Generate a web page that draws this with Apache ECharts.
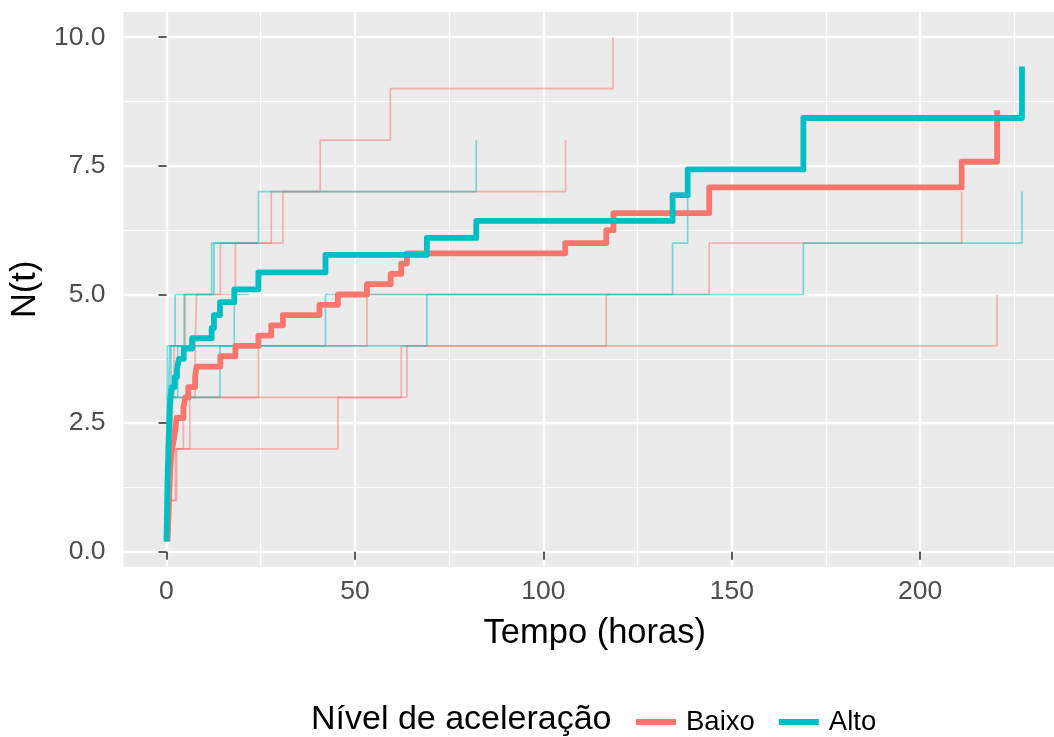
<!DOCTYPE html>
<html><head><meta charset="utf-8">
<script src="https://cdn.jsdelivr.net/npm/echarts@6/dist/echarts.min.js"></script>
<style>html,body{margin:0;padding:0;background:#fff}#c{width:1054px;height:737px}</style>
</head><body><div id="c"></div>
<script>
// Tick values
const xTicks = [0, 50, 100, 150, 200];
const xMinor = [25, 75, 125, 175, 225];
const yTicks = [0, 2.5, 5, 7.5, 10];
const yMinor = [1.25, 3.75, 6.25, 8.75];
const groups = ['Baixo', 'Alto'];

// Mean cumulative function (thick lines): [time, N(t)]
const mcfBaixo = [[0.3,0.2],[0.4,0.4],[0.5,0.6],[0.6,0.8],[0.7,1.0],[0.8,1.2],[0.9,1.4],[1.0,1.6],[1.2,1.8],[1.5,2.0],[2.0,2.2],[2.4,2.4],[2.7,2.6],[4.5,2.8],[5.0,3.0],[5.8,3.2],[7.6,3.4],[8.0,3.6],[14.3,3.8],[18.3,4.0],[24.4,4.2],[27.8,4.4],[30.9,4.6],[40.6,4.8],[45.5,5.0],[53.2,5.2],[59.5,5.4],[62.3,5.6],[63.8,5.8],[105.8,6.0],[116.7,6.25],[118.6,6.58],[144.0,7.08],[211.0,7.58],[220.4,8.58]];
const mcfAlto = [[0,0.2],[0.05,0.4],[0.1,0.6],[0.15,0.8],[0.2,1.0],[0.25,1.2],[0.3,1.4],[0.35,1.6],[0.45,1.8],[0.5,2.0],[0.6,2.2],[0.7,2.4],[0.8,2.6],[0.9,2.8],[1.1,3.0],[1.4,3.2],[2.2,3.4],[2.8,3.55],[3.3,3.75],[4.6,3.95],[6.8,4.15],[12.0,4.35],[12.6,4.6],[14.2,4.85],[18.0,5.1],[24.4,5.43],[42.2,5.77],[69.1,6.1],[82.2,6.43],[134.3,6.93],[138.3,7.43],[169.0,8.43],[227.0,9.43]];

// Individual systems (thin lines): [time, cumulative failures]
const baixo1 = [[0.4,1],[0.7,2],[1.0,3],[2.0,4],[5.0,5],[14.3,6],[27.8,7],[40.8,8],[59.4,9],[118.5,10]];
const baixo2 = [[0.5,1],[0.9,2],[1.6,3],[7.6,4],[8.0,5],[18.3,6],[30.9,7],[105.9,8]];
const baixo3 = [[1.4,1],[2.4,2],[45.5,3],[62.3,4],[220.4,5]];
const baixo4 = [[0.8,1],[2.7,2],[6.2,3],[63.8,4],[116.7,5],[144.0,6],[211.0,7]];
const baixo5 = [[0.6,1],[1.2,2],[4.5,3],[24.4,4],[53.2,5],[117.5,5]];
const alto1 = [[0.1,1],[0.3,2],[0.5,3],[0.9,4],[2.3,5],[12.0,6],[24.4,7],[82.2,8]];
const alto2 = [[0.1,1],[0.25,2],[0.7,3],[14.2,4],[42.2,5],[169.0,6],[227.0,7]];
const alto3 = [[0.05,1],[0.1,2],[0.15,3],[0.2,4],[69.1,5],[134.3,6],[138.3,7]];
const alto4 = [[0.05,1],[0.2,2],[0.4,3],[1.2,4],[4.7,5],[12.6,6],[24.3,6]];
const alto5 = [[0.15,1],[0.35,2],[0.6,3],[3.0,4],[18.0,5],[22.0,5]];

const RED = '#F8766D', CYAN = '#00BFC4';
const FONT = 'Liberation Sans, Arial, sans-serif';

function thin(name, data, color) {
  return { name: name, type: 'line', step: 'end', data: data, showSymbol: false, symbol: 'none', silent: true,
    lineStyle: { color: color, width: 1.7, opacity: 0.5 }, z: 2, animation: false };
}
function thick(name, data, color, z) {
  return { name: name, type: 'line', step: 'end', data: data, showSymbol: false, symbol: 'none', silent: true,
    itemStyle: { color: color }, lineStyle: { color: color, width: 5.8, join: 'round', cap: 'butt' }, z: z, animation: false };
}

const series = [
  thin('b1', baixo1, RED), thin('b2', baixo2, RED), thin('b3', baixo3, RED), thin('b4', baixo4, RED), thin('b5', baixo5, RED),
  thin('a1', alto1, CYAN), thin('a2', alto2, CYAN), thin('a3', alto3, CYAN), thin('a4', alto4, CYAN), thin('a5', alto5, CYAN),
  thick(groups[0], mcfBaixo, RED, 3), thick(groups[1], mcfAlto, CYAN, 4)
];

const chart = echarts.init(document.getElementById('c'), null, { renderer: 'canvas' });
chart.setOption({
  animation: false,
  backgroundColor: '#FFFFFF',
  textStyle: { fontFamily: FONT },
  title: { text: 'Nível de aceleração', left: 311, top: 703, padding: 0,
    textStyle: { fontSize: 34, fontWeight: 'normal', color: '#000', fontFamily: FONT } },
  legend: { data: groups, left: 636, top: 708, padding: 0, itemWidth: 40, itemHeight: 6, itemGap: 24, icon: 'rect',
    textStyle: { fontSize: 27.5, color: '#000', fontFamily: FONT, padding: [0, 0, 0, 5] } },
  grid: { left: 122.7, top: 12, right: 0, bottom: 170.3, show: true, backgroundColor: '#EBEBEB', borderWidth: 0, containLabel: false },
  xAxis: [
    { type: 'value', min: -11.4, max: 235.5, position: 'bottom',
      axisLine: { show: false },
      axisTick: { show: true, customValues: xTicks, length: 8, lineStyle: { color: '#333333', width: 1.6 } },
      axisLabel: { customValues: xTicks, color: '#4D4D4D', fontSize: 26.5, margin: 11, fontFamily: FONT },
      splitLine: { show: true, lineStyle: { color: '#FFFFFF', width: 2.3 } },
      name: 'Tempo (horas)', nameLocation: 'middle', nameGap: 49,
      nameTextStyle: { fontSize: 34.5, color: '#000', fontFamily: FONT, padding: [0, 0, 0, 12] } },
    { type: 'value', min: -11.4, max: 235.5, position: 'top',
      axisLine: { show: false }, axisLabel: { show: false },
      axisTick: { show: false, customValues: xMinor },
      splitLine: { show: true, lineStyle: { color: '#FFFFFF', width: 1.2 } } }
  ],
  yAxis: [
    { type: 'value', min: -0.29, max: 10.49, position: 'left',
      axisLine: { show: false },
      axisTick: { show: true, customValues: yTicks, length: 8, lineStyle: { color: '#333333', width: 1.6 } },
      axisLabel: { customValues: yTicks, color: '#4D4D4D', fontSize: 26.5, margin: 18, fontFamily: FONT,
        formatter: function (v) { return v.toFixed(1); } },
      splitLine: { show: true, lineStyle: { color: '#FFFFFF', width: 2.3 } },
      name: 'N(t)', nameLocation: 'middle', nameGap: 75, nameRotate: 90,
      nameTextStyle: { fontSize: 34.5, color: '#000', fontFamily: FONT } },
    { type: 'value', min: -0.29, max: 10.49, position: 'right',
      axisLine: { show: false }, axisLabel: { show: false },
      axisTick: { show: false, customValues: yMinor },
      splitLine: { show: true, lineStyle: { color: '#FFFFFF', width: 1.2 } } }
  ],
  series: series
});
</script></body></html>
